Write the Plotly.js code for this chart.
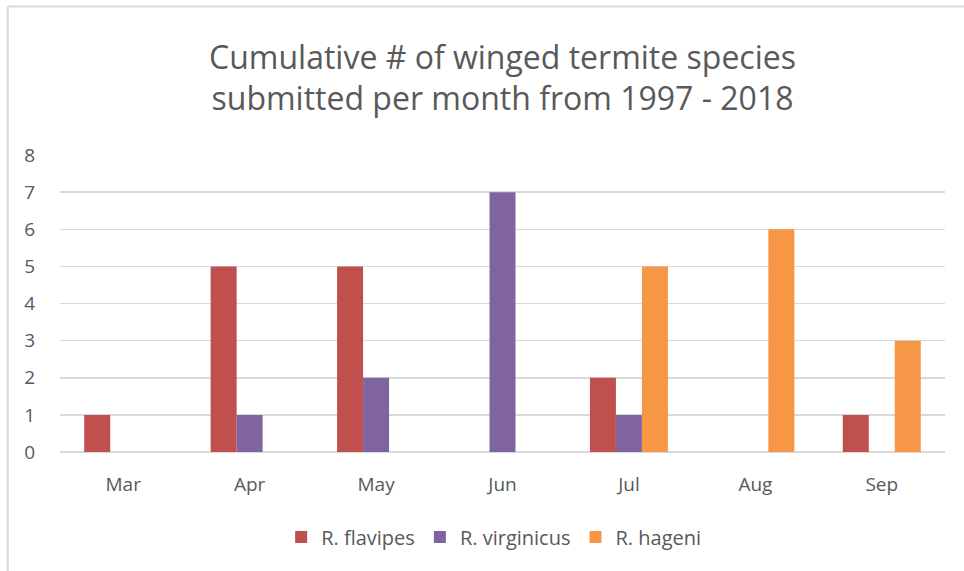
<!DOCTYPE html>
<html>
<head>
<meta charset="utf-8">
<script src="https://cdn.plot.ly/plotly-3.0.1.min.js"></script>
<style>html,body{margin:0;padding:0;background:#fff}#chart{width:964px;height:571px}</style>
</head>
<body>
<div id="chart"></div>
<script>
const months = ["Mar", "Apr", "May", "Jun", "Jul", "Aug", "Sep"];
const flavipes = [1, 5, 5, 0, 2, 0, 1];
const virginicus = [0, 1, 2, 7, 1, 0, 0];
const hageni = [0, 0, 0, 0, 5, 6, 3];
const seriesNames = ["R. flavipes", "R. virginicus", "R. hageni"];
const seriesColors = ["#C0504D", "#8064A2", "#F79646"];

const fontFam = "'Open Sans', 'Noto Sans', sans-serif";
const textColor = "#595959";

const traces = [flavipes, virginicus, hageni].map((vals, i) => ({
  type: "bar",
  x: months,
  y: vals,
  name: seriesNames[i],
  marker: {color: seriesColors[i], line: {width: 0}},
  hoverinfo: "x+y+name"
}));

const layout = {
  width: 964, height: 571,
  paper_bgcolor: "#fff", plot_bgcolor: "#fff",
  margin: {l: 60, r: 19, t: 155, b: 119},
  barmode: "group",
  bargap: 0.383,
  bargroupgap: 0,
  font: {family: fontFam, color: textColor},
  title: {
    text: "Cumulative # of winged termite species<br>submitted per month from 1997 - 2018",
    font: {family: fontFam, size: 32, color: textColor},
    x: 0.5, xanchor: "center", xref: "paper",
    y: 0.88, yanchor: "middle", yref: "container"
  },
  xaxis: {
    type: "category",
    showgrid: false, zeroline: false, showline: false,
    ticks: "outside", ticklen: 15, tickcolor: "rgba(0,0,0,0)",
    tickfont: {family: fontFam, size: 19, color: textColor}
  },
  yaxis: {
    range: [0, 8], dtick: 1,
    showgrid: true, gridcolor: "#D9D9D9", gridwidth: 1.5,
    zeroline: true, zerolinecolor: "#D9D9D9", zerolinewidth: 1.5,
    showline: false,
    ticks: "outside", ticklen: 20, tickcolor: "rgba(0,0,0,0)",
    tickfont: {family: fontFam, size: 19, color: textColor}
  },
  legend: {
    orientation: "h",
    x: 0.49, xanchor: "center",
    y: -0.286, yanchor: "middle",
    font: {family: fontFam, size: 20, color: textColor},
    itemwidth: 30
  },
  shapes: [
    {type: "line", xref: "paper", yref: "paper", x0: -0.059, x1: 1.03, y0: 1.5, y1: 1.5,
     line: {color: "#D9D9D9", width: 2}},
    {type: "line", xref: "paper", yref: "paper", x0: -0.059, x1: -0.059, y0: 1.5, y1: -0.41,
     line: {color: "#D9D9D9", width: 2}}
  ],
  showlegend: true
};

Plotly.newPlot("chart", traces, layout, {displayModeBar: false, staticPlot: true});
</script>
</body>
</html>
